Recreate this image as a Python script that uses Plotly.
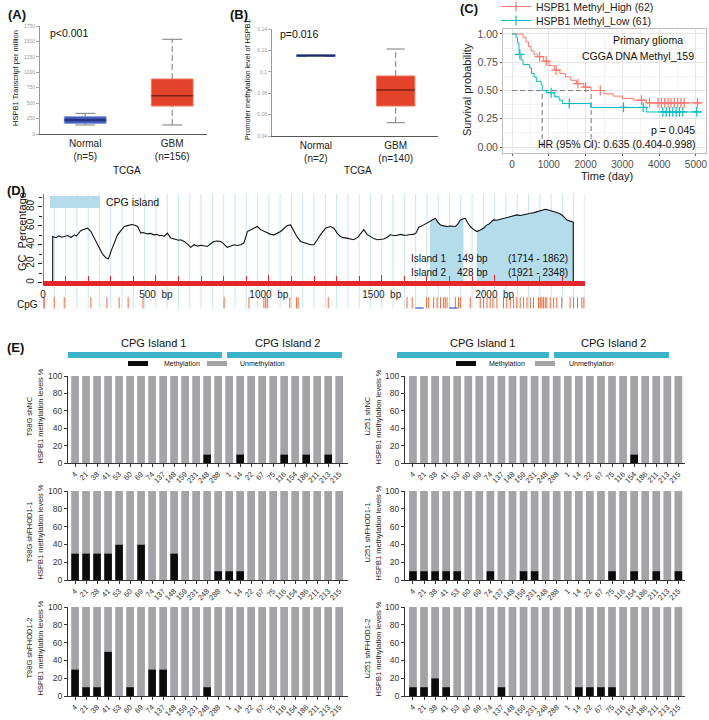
import plotly.graph_objects as go

W, H = 709, 720
FONT = "Liberation Sans, Arial, Helvetica, sans-serif"


def X(p):
    return p / W


def Y(p):
    return 1 - p / H


def xdom(a, b):
    return [a / W, b / W]


def ydom(top, bot):
    return [1 - bot / H, 1 - top / H]


# ---------------- Panel A data (TCGA HSPB1 TPM) ----------------
A_labels = ["Normal<br>(n=5)", "GBM<br>(n=156)"]
A_q1 = [173, 453]
A_med = [227, 620]
A_q3 = [280, 891]
A_low = [146, 146]
A_high = [335, 1535]
A_ticks = [0, 250, 500, 750, 1000, 1250, 1500, 1750]

# ---------------- Panel B data (promoter methylation) ----------------
B_labels = ["Normal<br>(n=2)", "GBM<br>(n=140)"]
B_q1 = [0.1143, 0.068]
B_med = [0.1152, 0.083]
B_q3 = [0.1158, 0.0961]
B_low = [0.1143, 0.0524]
B_high = [0.1158, 0.1213]
B_ticks = [0.04, 0.06, 0.08, 0.1, 0.12, 0.14]

# ---------------- Panel C data (Kaplan-Meier) ----------------
high_t = [0, 300, 380, 450, 520, 600, 690, 850, 1000, 1150, 1300, 1450, 1600, 1750,
          1950, 2150, 2500, 2750, 3000, 3300, 3650, 5150]
high_s = [1.0, 0.97, 0.93, 0.89, 0.85, 0.82, 0.80, 0.76, 0.72, 0.68, 0.65, 0.62, 0.59, 0.56,
          0.53, 0.50, 0.47, 0.45, 0.43, 0.415, 0.39, 0.39]
high_cens_t = [750, 930, 1200, 1790, 2000, 2400, 3520, 3740, 3970, 4060, 4150, 4240,
               4320, 4410, 4500, 4590, 4680, 5040]
high_cens_s = [0.80, 0.76, 0.68, 0.56, 0.53, 0.50, 0.415, 0.39, 0.39, 0.39, 0.39, 0.39,
               0.39, 0.39, 0.39, 0.39, 0.39, 0.39]
low_t = [0, 110, 150, 190, 200, 250, 300, 480, 530, 600, 660, 790, 820, 940, 1150, 1280,
         1370, 2140, 3650, 5150]
low_s = [1.0, 0.97, 0.92, 0.85, 0.82, 0.77, 0.73, 0.70, 0.65, 0.62, 0.58, 0.55, 0.50, 0.48,
         0.445, 0.415, 0.385, 0.35, 0.31, 0.31]
low_cens_t = [214, 1063, 1555, 3030, 3565, 4100, 4190, 4280, 4370, 4460, 4550, 4640, 5020]
low_cens_s = [0.82, 0.48, 0.385, 0.35, 0.35, 0.31, 0.31, 0.31, 0.31, 0.31, 0.31, 0.31, 0.31]
km_xticks = [0, 1000, 2000, 3000, 4000, 5000]
km_yticks = [0, 0.25, 0.5, 0.75, 1.0]
km_yticktext = ["0.00", "0.25", "0.50", "0.75", "1.00"]

# ---------------- Panel D data (GC content, CpG sites) ----------------
gc_bp = [0, 43, 43, 58, 70, 82, 94, 110, 124, 139, 148, 158, 167, 176, 187, 198, 212, 228,
         242, 253, 264, 279, 290, 301, 315, 330, 345, 360, 371, 382, 393, 404, 419, 433, 446,
         460, 476, 492, 505, 515, 526, 536, 551, 566, 578, 588, 600, 610, 625, 640, 654, 669,
         685, 700, 715, 728, 742, 757, 772, 787, 800, 816, 830, 846, 860, 875, 890, 905, 918,
         930, 949, 964, 978, 993, 1008, 1023, 1038, 1052, 1068, 1082, 1096, 1111, 1126, 1141,
         1155, 1165, 1185, 1200, 1214, 1230, 1251, 1273, 1288, 1303, 1317, 1330, 1345, 1360,
         1376, 1395, 1408, 1420, 1435, 1450, 1465, 1480, 1495, 1509, 1524, 1538, 1560, 1572,
         1583, 1597, 1610, 1625, 1641, 1652, 1664, 1682, 1700, 1714, 1725, 1737, 1748, 1760,
         1775, 1789, 1805, 1826, 1837, 1848, 1862, 1870, 1881, 1892, 1907, 1921, 1936, 1951,
         1963, 1975, 1995, 2010, 2025, 2040, 2055, 2070, 2085, 2099, 2115, 2130, 2145, 2158,
         2175, 2190, 2207, 2224, 2238, 2250, 2263, 2275, 2288, 2300, 2310, 2320, 2335, 2348,
         2348, 2400]
gc_pct = [0, 0, 48.8, 47.5, 49.5, 48, 48.8, 49.8, 47.7, 50.5, 49.2, 52.5, 54.8, 55.8, 56.5, 57.5,
          54, 47, 40, 35, 30, 26, 25, 33, 42, 50.5, 55, 59.3, 60, 60.5, 61.5, 61, 59.3, 52.3, 53,
          51.5, 52, 50.5, 51, 49.5, 50, 48.8, 52.3, 47, 46.5, 46, 44.8, 45.3, 43.5, 40.7, 37.2,
          40, 38.5, 39.5, 39, 38.2, 41, 43.5, 44, 43.5, 41, 37.2, 38.5, 40, 39.2, 40, 42, 54,
          55.5, 57, 59.3, 56, 54.5, 52.3, 51, 50.5, 52, 54, 57.5, 60.4, 61, 54, 48, 43.5, 42.5,
          42, 40, 40, 45.3, 51, 57.5, 59.3, 57.5, 52, 48.8, 47.5, 47, 46, 45.3, 48, 52, 56, 51,
          48.8, 46.5, 45.3, 45.8, 46, 48, 50.5, 49.5, 50.3, 51, 50.2, 50, 50.8, 51, 52.5, 58.5,
          60.5, 62.7, 65, 66.5, 68, 64, 61, 60, 59.3, 59.8, 59.3, 62, 66.3, 67.5, 68, 63,
          59.3, 56, 54, 55.5, 57.5, 60.5, 62, 66.3, 66, 67, 68, 68.8, 69.5, 70.5, 71.6, 71,
          72, 72.8, 73.3, 74, 75, 76.2, 77.5, 76.8, 76, 75.2, 74.4, 73, 71, 69, 66.3, 65, 64,
          0, 0]
island1 = (1714, 1862)
island2 = (1921, 2348)
cpg_sites = [0, 6, 50, 94, 212, 283, 337, 377, 443, 802, 912, 978, 986, 993, 1093, 1123, 1130,
             1263, 1612, 1635, 1698, 1708, 1730, 1745, 1760, 1774, 1781, 1789, 1826, 1840, 1848,
             1892, 1936, 1951, 1966, 1980, 1992, 2010, 2039, 2054, 2069, 2084, 2098, 2113, 2128,
             2143, 2158, 2172, 2194, 2202, 2209, 2216, 2224, 2231, 2246, 2261, 2275, 2297, 2334,
             2349, 2367, 2386, 2395]
primer_sites = [1667, 1817]
bp_ticks = [0, 500, 1000, 1500, 2000]
bp_ticktext = ["0", "500  bp", "1000  bp", "1500  bp", "2000  bp"]

# ---------------- Panel E data (bisulfite methylation %) ----------------
sites = ["4", "21", "38", "41", "53", "60", "69", "74", "137", "148", "159", "231", "248", "288",
         "1", "14", "22", "67", "75", "116", "154", "186", "211", "213", "215"]
T98G_shNC = [0, 0, 0, 0, 0, 0, 0, 0, 0, 0, 0, 0, 10, 0, 0, 10, 0, 0, 0, 10, 0, 10, 0, 10, 0]
T98G_sh1 = [30, 30, 30, 30, 40, 0, 40, 0, 0, 30, 0, 0, 0, 10, 10, 10, 0, 0, 0, 0, 0, 0, 0, 0, 0]
T98G_sh2 = [30, 10, 10, 50, 0, 10, 0, 30, 30, 0, 0, 0, 10, 0, 0, 0, 0, 0, 0, 0, 0, 0, 0, 0, 0]
U251_shNC = [0, 0, 0, 0, 0, 0, 0, 0, 0, 0, 0, 0, 0, 0, 0, 0, 0, 0, 0, 0, 10, 0, 0, 0, 0]
U251_sh1 = [10, 10, 10, 10, 10, 0, 0, 10, 0, 0, 10, 10, 0, 0, 0, 0, 0, 0, 10, 0, 10, 0, 10, 0, 10]
U251_sh2 = [10, 10, 20, 10, 0, 0, 0, 0, 10, 0, 0, 0, 0, 0, 0, 10, 10, 10, 10, 0, 0, 0, 0, 0, 0]
E_rows = [
    ("T98G shNC", T98G_shNC), ("U251 shNC", U251_shNC),
    ("T98G shFHOD1-1", T98G_sh1), ("U251 shFHOD1-1", U251_sh1),
    ("T98G shFHOD1-2", T98G_sh2), ("U251 shFHOD1-2", U251_sh2),
]

# ---------------- colours ----------------
RED_BOX = "#e2432a"
RED_EDGE = "#f07a62"
RED_MED = "#7a1f12"
BLUE_BOX = "#3e52b4"
BLUE_EDGE = "#7f90d6"
BLUE_MED = "#1d2b72"
KM_HIGH = "#F8766D"
KM_LOW = "#00BFC4"
LIGHTBLUE = "#b4dcea"
STRIPE = "#c9e5ee"
CPG_RED = "#ee6a3c"
TEAL = "#3cb3c8"
GREY_BAR = "#a3a3a8"
BLACK_BAR = "#0c0c0c"

fig = go.Figure()
shapes = []
annotations = []


def ann(x, y, text, size=10, color="#111", xanchor="center", yanchor="middle", angle=0, bold=False):
    if bold:
        text = "<b>" + text + "</b>"
    annotations.append(dict(x=X(x), y=Y(y), xref="paper", yref="paper", text=text, showarrow=False,
                            xanchor=xanchor, yanchor=yanchor, textangle=angle,
                            font=dict(family=FONT, size=size, color=color)))


def add_box(ax, ay, q1, med, q3, lo, hi, fills, edges, medc, dashed):
    xs = list(range(len(q1)))
    fig.add_trace(go.Bar(x=xs, y=[b - a for a, b in zip(q1, q3)], base=q1, width=0.48,
                         marker=dict(color=fills, line=dict(color=edges, width=1)),
                         xaxis=ax, yaxis=ay, showlegend=False, hoverinfo="skip"))
    for i in xs:
        d = "6px,3px" if dashed[i] else "solid"
        for seg in ([q3[i], hi[i]], [lo[i], q1[i]]):
            fig.add_trace(go.Scatter(x=[i, i], y=seg, mode="lines",
                                     line=dict(color="#7a7a7a", width=1, dash=d),
                                     xaxis=ax, yaxis=ay, showlegend=False, hoverinfo="skip"))
        fig.add_trace(go.Scatter(x=[i - 0.115, i + 0.115, None, i - 0.115, i + 0.115],
                                 y=[hi[i], hi[i], None, lo[i], lo[i]], mode="lines",
                                 line=dict(color="#7a7a7a", width=1),
                                 xaxis=ax, yaxis=ay, showlegend=False, hoverinfo="skip"))
        fig.add_trace(go.Scatter(x=[i - 0.24, i + 0.24], y=[med[i], med[i]], mode="lines",
                                 line=dict(color=medc[i], width=1.5),
                                 xaxis=ax, yaxis=ay, showlegend=False, hoverinfo="skip"))


# ---- Panel A ----
add_box("x", "y", A_q1, A_med, A_q3, A_low, A_high, [BLUE_BOX, RED_BOX], [BLUE_EDGE, RED_EDGE],
        [BLUE_MED, RED_MED], [False, True])
# ---- Panel B ----
add_box("x2", "y2", B_q1, B_med, B_q3, B_low, B_high, [BLUE_BOX, RED_BOX], [BLUE_BOX, RED_EDGE],
        [BLUE_MED, RED_MED], [False, True])

# ---- Panel C ----
low_median = next(t for t, s in zip(low_t, low_s) if s <= 0.5)
high_median = next(t for t, s in zip(high_t, high_s) if s <= 0.5)
fig.add_trace(go.Scatter(x=[0, high_median], y=[0.5, 0.5], mode="lines",
                         line=dict(color="#808080", width=1.1, dash="5px,3px"),
                         xaxis="x3", yaxis="y3", showlegend=False, hoverinfo="skip"))
for m in (low_median, high_median):
    fig.add_trace(go.Scatter(x=[m, m], y=[0, 0.5], mode="lines",
                             line=dict(color="#808080", width=1.1, dash="5px,3px"),
                             xaxis="x3", yaxis="y3", showlegend=False, hoverinfo="skip"))
for t, s, ct, cs, col, name, lg in (
        (high_t, high_s, high_cens_t, high_cens_s, KM_HIGH, "HSPB1 Methyl_High (62)", "legend"),
        (low_t, low_s, low_cens_t, low_cens_s, KM_LOW, "HSPB1 Methyl_Low (61)", "legend2")):
    fig.add_trace(go.Scatter(x=t, y=s, mode="lines", line=dict(color=col, width=1, shape="hv"),
                             xaxis="x3", yaxis="y3", showlegend=False))
    fig.add_trace(go.Scatter(x=ct, y=cs, mode="markers",
                             marker=dict(symbol="cross-thin", size=7, line=dict(color=col, width=1.2)),
                             xaxis="x3", yaxis="y3", showlegend=False))
    fig.add_trace(go.Scatter(x=[None], y=[None], mode="lines+markers", name=name, legend=lg,
                             line=dict(color=col, width=1),
                             marker=dict(symbol="cross-thin", size=7, line=dict(color=col, width=1.2)),
                             xaxis="x3", yaxis="y3", showlegend=True))

# ---- Panel D ----
for lo_, hi_ in (island1, island2):
    xs = [b for b, g in zip(gc_bp, gc_pct) if lo_ <= b <= hi_ and g > 0]
    ys = [g for b, g in zip(gc_bp, gc_pct) if lo_ <= b <= hi_ and g > 0]
    fig.add_trace(go.Scatter(x=xs, y=ys, mode="lines", fill="tozeroy", fillcolor=LIGHTBLUE,
                             line=dict(width=0, color=LIGHTBLUE), xaxis="x4", yaxis="y4",
                             showlegend=False, hoverinfo="skip"))
fig.add_trace(go.Scatter(x=gc_bp, y=gc_pct, mode="lines", line=dict(color="#111", width=1.1),
                         xaxis="x4", yaxis="y4", showlegend=False))
fig.add_trace(go.Scatter(x=cpg_sites, y=[-21.5] * len(cpg_sites), mode="markers",
                         marker=dict(symbol="line-ns", size=8, line=dict(color=CPG_RED, width=1)),
                         xaxis="x4", yaxis="y4", showlegend=False))
fig.add_trace(go.Scatter(x=primer_sites, y=[-27] * len(primer_sites), mode="markers",
                         marker=dict(symbol="line-ew", size=6, line=dict(color="#3a62c8", width=1.3)),
                         xaxis="x4", yaxis="y4", showlegend=False))

# ---- Panel E ----
for k, (label, meth) in enumerate(E_rows):
    n = k + 5
    xs = list(range(len(sites)))
    fig.add_trace(go.Bar(x=xs, y=meth, base=[0] * len(meth), width=0.7, marker_color=BLACK_BAR,
                         marker_line_width=0, xaxis=f"x{n}", yaxis=f"y{n}", showlegend=False))
    fig.add_trace(go.Bar(x=xs, y=[100 - v for v in meth], base=meth, width=0.7, marker_color=GREY_BAR,
                         marker_line_width=0, xaxis=f"x{n}", yaxis=f"y{n}", showlegend=False))

# ---------------- layout axes ----------------
legend_common = dict(x=X(496), xanchor="left", yanchor="top", bgcolor="rgba(0,0,0,0)",
                     font=dict(family=FONT, size=10.5, color="#222"), itemwidth=30,
                     borderwidth=0)
layout = dict(
    template="none",
    width=W, height=H, margin=dict(l=0, r=0, t=0, b=0, pad=0, autoexpand=False),
    paper_bgcolor="white", plot_bgcolor="rgba(0,0,0,0)", barmode="overlay",
    font=dict(family=FONT, color="#111"),
    legend=dict(y=Y(-8), **legend_common),
    legend2=dict(y=Y(6), **legend_common),
)

AX = dict(automargin=False, showgrid=False, zeroline=False)

# Panel A axes
layout["xaxis"] = dict(AX, domain=xdom(40, 207), range=[-0.52, 1.40], anchor="y", tickvals=[0, 1],
                       ticktext=A_labels, ticks="", showline=True, linecolor="#555", linewidth=1,
                       tickfont=dict(size=10, color="#222"))
layout["yaxis"] = dict(AX, domain=ydom(26, 134), range=[0, 1750], anchor="x", tickvals=A_ticks,
                       ticks="outside", ticklen=3, tickcolor="#aaa", showline=True, linecolor="#999",
                       tickfont=dict(size=5, color="#999"))
# Panel B axes
layout["xaxis2"] = dict(AX, domain=xdom(272, 438), range=[-0.55, 1.53], anchor="y2", tickvals=[0, 1],
                        ticktext=B_labels, ticks="", showline=True, linecolor="#555", linewidth=1,
                        tickfont=dict(size=10, color="#222"))
layout["yaxis2"] = dict(AX, domain=ydom(29, 136), range=[0.04, 0.14], anchor="x2", tickvals=B_ticks,
                        ticktext=[str(v) for v in B_ticks], ticks="outside", ticklen=3, tickcolor="#aaa",
                        showline=True, linecolor="#999", tickfont=dict(size=5, color="#999"))
# Panel C axes
layout["xaxis3"] = dict(automargin=False, zeroline=False, domain=xdom(503, 706), range=[-245, 5272],
                        anchor="y3", tickvals=km_xticks, ticks="outside", ticklen=2, tickcolor="#555",
                        showline=True, mirror=True, linecolor="#bdbdbd", showgrid=True,
                        gridcolor="#e6e6e6", ticklabeloverflow="allow",
                        minor=dict(tickvals=[500, 1500, 2500, 3500, 4500], showgrid=True, gridcolor="#f3f3f3"),
                        tickfont=dict(size=10, color="#4d4d4d"))
layout["yaxis3"] = dict(automargin=False, zeroline=False, domain=ydom(29, 153), range=[-0.053, 1.044],
                        anchor="x3", tickvals=km_yticks, ticktext=km_yticktext, ticks="outside",
                        ticklen=2, tickcolor="#555", showline=True, mirror=True, linecolor="#bdbdbd",
                        showgrid=True, gridcolor="#e6e6e6",
                        minor=dict(tickvals=[0.125, 0.375, 0.625, 0.875], showgrid=True, gridcolor="#f3f3f3"),
                        tickfont=dict(size=10.5, color="#4d4d4d"))
# Panel D axes
layout["xaxis4"] = dict(AX, domain=xdom(43, 585), range=[0, 2400], anchor="free", position=Y(282.5),
                        tickvals=bp_ticks, ticktext=bp_ticktext, ticks="inside", ticklen=6,
                        tickcolor="#e2262a", tickwidth=1, showline=True, linecolor="#e2262a",
                        linewidth=5,
                        minor=dict(tickvals=list(range(100, 2400, 100)), ticks="inside", ticklen=5,
                                   tickcolor="#e2262a", tickwidth=1),
                        tickfont=dict(size=10, color="#222"))
layout["yaxis4"] = dict(AX, domain=ydom(188, 312), range=[-31.25, 100.1], anchor="x4",
                        tickvals=[0, 20, 40, 60, 80], tickangle=-90, ticks="outside", ticklen=4,
                        tickcolor="#222", showline=False,
                        minor=dict(tickvals=[10, 30, 50, 70, 90], ticks="outside", ticklen=3,
                                   tickcolor="#222"),
                        tickfont=dict(size=10, color="#222"))
# Panel E axes
E_x = [(68, 348, [-0.64, 24.8]), (405, 685, [-0.72, 24.6])]
E_y = [(376, 463), (491, 580), (607, 696)]
for k in range(6):
    n = k + 5
    col = k % 2
    row = k // 2
    xa, xb, rng = E_x[col]
    yt, yb = E_y[row]
    layout[f"xaxis{n}"] = dict(AX, domain=xdom(xa, xb), range=rng, anchor=f"y{n}",
                               tickvals=list(range(len(sites))), ticktext=sites, tickangle=-45,
                               ticks="outside", ticklen=3, tickcolor="#333", showline=True,
                               linecolor="#333", linewidth=1, tickfont=dict(size=7.5, color="#333"))
    layout[f"yaxis{n}"] = dict(AX, domain=ydom(yt, yb), range=[0, 100], anchor=f"x{n}",
                               tickvals=[0, 20, 40, 60, 80, 100], ticks="outside", ticklen=3,
                               tickcolor="#333", showline=True, linecolor="#333", linewidth=1,
                               tickfont=dict(size=8.5, color="#333"))

# ---------------- decorations ----------------
# Panel D background stripes every 50 bp
for b in range(0, 2401, 50):
    shapes.append(dict(type="line", xref="x4", yref="y4", x0=b, x1=b, y0=-27.5, y1=93.7,
                       line=dict(color=STRIPE, width=1), layer="below"))
# Panel D y axis line
shapes.append(dict(type="line", xref="x4", yref="y4", x0=0, x1=0, y0=0, y1=93.7,
                   line=dict(color="#222", width=1)))
# CPG island legend swatch
shapes.append(dict(type="rect", xref="paper", yref="paper", x0=X(50), x1=X(100), y0=Y(208), y1=Y(196),
                   fillcolor=LIGHTBLUE, line=dict(width=0)))

# Panel E header bars and legend swatches
for x0, x1 in ((68, 222), (227, 342), (397, 549), (554, 669)):
    shapes.append(dict(type="rect", xref="paper", yref="paper", x0=X(x0), x1=X(x1), y0=Y(358), y1=Y(352),
                       fillcolor=TEAL, line=dict(width=0)))
for x0, col_ in ((128, BLACK_BAR), (207, GREY_BAR), (456, BLACK_BAR), (535, GREY_BAR)):
    shapes.append(dict(type="rect", xref="paper", yref="paper", x0=X(x0), x1=X(x0 + 20), y0=Y(366),
                       y1=Y(361), fillcolor=col_, line=dict(width=0)))

# ---------------- text ----------------
ann(6, 14, "(A)", 13, xanchor="left", bold=True)
ann(228, 14, "(B)", 13, xanchor="left", bold=True)
ann(458, 9, "(C)", 13, xanchor="left", bold=True)
ann(5, 191, "(D)", 13, xanchor="left", bold=True)
ann(5, 347, "(E)", 13, xanchor="left", bold=True)

# Panel A/B
ann(48, 33, "p&lt;0.001", 10.5, xanchor="left")
ann(15, 78, "HSPB1 Transcript per million", 7.5, angle=-90)
ann(127, 170, "TCGA", 10)
ann(278, 34, "p=0.016", 10.5, xanchor="left")
ann(247, 80, "Promoter methylation level of HSPB1", 7.3, angle=-90)
ann(358, 170, "TCGA", 10)

# Panel C
ann(685, 40, "Primary glioma", 10.5, xanchor="right")
ann(696, 56, "CGGA DNA Methyl_159", 10.5, xanchor="right")
ann(697, 130, "p = 0.045", 10.5, xanchor="right")
ann(698, 144, "HR (95% CI): 0.635 (0.404-0.998)", 10.5, xanchor="right")
ann(467, 90, "Survival probability", 11, color="#222", angle=-90)
ann(607, 176, "Time (day)", 11, color="#222")

# Panel D
ann(104, 202, "CPG island", 10.5, xanchor="left")
ann(22, 232, "GC  Percentage", 11, angle=-90)
ann(27, 304, "CpG", 10)
ann(409, 258, "Island 1", 10, xanchor="left")
ann(455, 258, "149 bp", 10, xanchor="left")
ann(506, 258, "(1714 - 1862)", 10, xanchor="left")
ann(409, 272, "Island 2", 10, xanchor="left")
ann(455, 272, "428 bp", 10, xanchor="left")
ann(506, 272, "(1921 - 2348)", 10, xanchor="left")

# Panel E headers
ann(153, 343, "CPG Island 1", 11)
ann(287, 343, "CPG Island 2", 11)
ann(482, 343, "CPG Island 1", 11)
ann(613, 343, "CPG Island 2", 11)
ann(162, 364, "Methylation", 7, xanchor="left")
ann(238, 364, "Unmethylation", 7, xanchor="left")
ann(487, 364, "Methylation", 7, xanchor="left")
ann(567, 364, "Unmethylation", 7, xanchor="left")
for k, (label, meth) in enumerate(E_rows):
    col = k % 2
    row = k // 2
    yt, yb = E_y[row]
    yc = (yt + yb) / 2 - 3
    x1 = 29 if col == 0 else 367
    ann(x1, yc, label, 7.5, color="#222", angle=-90)
    ann(x1 + 11, yc, "HSPB1 methylation levels %", 7.5, color="#222", angle=-90)

layout["shapes"] = shapes
layout["annotations"] = annotations
fig.update_layout(**layout)
fig.write_html("out.html", config={"displayModeBar": False},
               post_script="document.body.style.margin='0';document.body.style.overflow='hidden';")
